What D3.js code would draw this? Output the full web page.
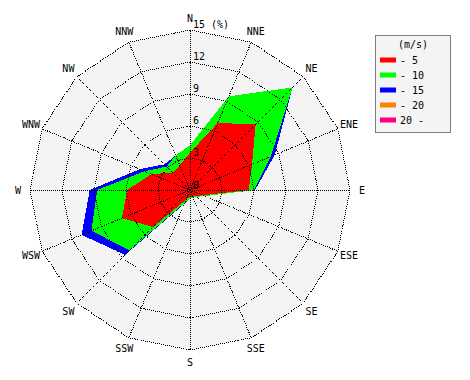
<!DOCTYPE html>
<html><head><meta charset="utf-8">
<script src="https://cdn.jsdelivr.net/npm/d3@7"></script>
<style>
body{margin:0;background:#fff}
text{font-family:"DejaVu Sans Mono",monospace;font-size:10px;fill:#000}
</style>
</head><body>
<svg id="chart" width="470" height="380"></svg>
<script>
// ---- data ----
const directions = ["N","NNE","NE","ENE","E","ESE","SE","SSE","S","SSW","SW","WSW","W","WNW","NW","NNW"];
const speedBands = ["- 5","- 10","- 15","- 20","20 -"];
const bandColors = ["#ff0000","#00ff00","#0000ff","#ff8000","#ff0080"];
const speed0to5   = [3.5,6.8,8.7,6.3,5.5,1.3,0.8,0.7,0.6,1.0,4.9,6.9,5.9,3.9,2.3,2.5];
const speed5to10  = [0.7,2.7,4.9,1.9,0.5,0.2,0.1,0.1,0.2,0.3,3.1,3.1,2.8,0.7,0.8,1.0];
const speed10to15 = [0,0,0,0.4,0.1,0,0,0,0,0.1,0.6,1.0,0.7,0.5,0.3,0];
const speed15to20 = [0,0,0,0,0,0,0,0,0,0,0,0,0,0,0,0];
const speedOver20 = [0,0,0,0,0,0,0,0,0,0,0,0,0,0,0,0];
const ringTicks = [3,6,9,12,15];
const ringLabels = ["3","6","9","12","15 (%)"];
const unitLabel = "(m/s)";

// ---- layout ----
const svg = d3.select("#chart");
const cx = 190, cy = 190, R = 160;
const rScale = d3.scaleLinear().domain([0,15]).range([0,R]);
const aScale = d3.scaleLinear().domain([0,directions.length]).range([0,2*Math.PI]);
const keys = ["b0","b1","b2","b3","b4"];
const bandArrays = [speed0to5,speed5to10,speed10to15,speed15to20,speedOver20];
const rows = directions.map((d,i)=>{const o={dir:d};keys.forEach((k,j)=>o[k]=bandArrays[j][i]);return o;});
const stacked = d3.stack().keys(keys)(rows);

const g = svg.append("g").attr("transform",`translate(${cx},${cy})`);

const ringLine = v => d3.lineRadial().angle((d,i)=>aScale(i)).radius(()=>rScale(v)).curve(d3.curveLinearClosed)(directions);

// background
g.append("path").attr("d",ringLine(15)).attr("fill","#f4f4f4").attr("stroke","none");

// stacked polygons, outermost first
const areaLine = d3.lineRadial().angle((d,i)=>aScale(i)).radius(d=>rScale(d[1])).curve(d3.curveLinearClosed);
for(let j=stacked.length-1;j>=0;j--){
  g.append("path").attr("d",areaLine(stacked[j])).attr("fill",bandColors[j]).attr("stroke","none")
   .attr("shape-rendering","crispEdges");
}

// grid rings
ringTicks.forEach(v=>{
  g.append("path").attr("d",ringLine(v)).attr("fill","none").attr("stroke","#000")
   .attr("stroke-width",1).attr("stroke-dasharray","1,1").attr("shape-rendering","crispEdges");
});
// spokes
directions.forEach((d,i)=>{
  const a = aScale(i);
  g.append("line").attr("x1",0).attr("y1",0)
   .attr("x2",rScale(15)*Math.sin(a)).attr("y2",-rScale(15)*Math.cos(a))
   .attr("stroke","#000").attr("stroke-width",1).attr("stroke-dasharray","1,1").attr("shape-rendering","crispEdges");
});

// ring labels
ringTicks.forEach((v,i)=>{
  g.append("text").attr("x",3).attr("y",-rScale(v)-2).text(ringLabels[i]);
});
g.append("text").attr("x",3).attr("y",-1).text("0");

// direction labels
directions.forEach((d,i)=>{
  const a = aScale(i), rr = 172;
  g.append("text").attr("x",rr*Math.sin(a)).attr("y",-rr*Math.cos(a))
   .attr("text-anchor","middle").attr("dominant-baseline","central").text(d);
});

// legend
const lg = svg.append("g");
lg.append("rect").attr("x",375.5).attr("y",35.5).attr("width",75).attr("height",97)
  .attr("fill","#f4f4f4").attr("stroke","#000").attr("stroke-dasharray","1,1");
lg.append("text").attr("x",413).attr("y",44).attr("text-anchor","middle").attr("dominant-baseline","central").text(unitLabel);
speedBands.forEach((s,i)=>{
  const y = 60 + i*15;
  lg.append("rect").attr("x",380).attr("y",y-2.5).attr("width",16).attr("height",5).attr("fill",bandColors[i]);
  lg.append("text").attr("x",400).attr("y",y).attr("dominant-baseline","central").text(s);
});
</script>
</body></html>
